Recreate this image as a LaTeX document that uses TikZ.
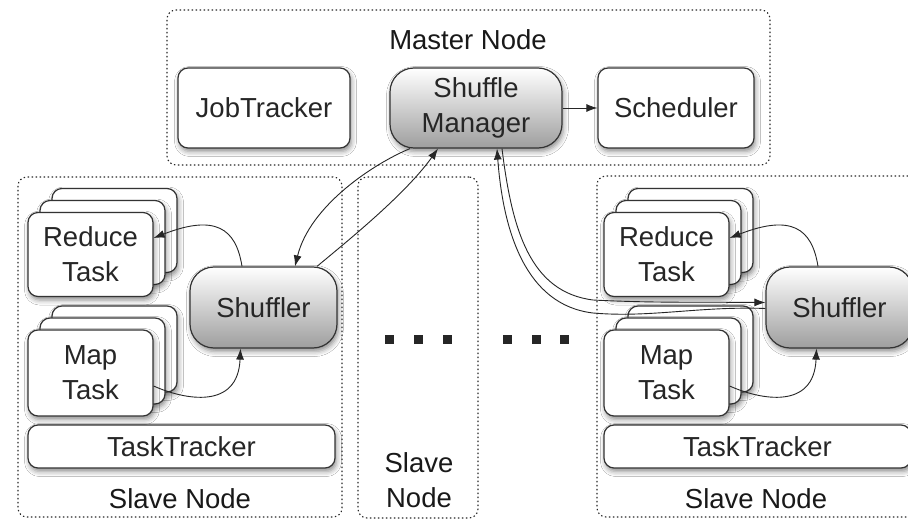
\documentclass[tikz,border=0pt]{standalone}
\usepackage{fontspec}
\setmainfont{Liberation Sans}
\usetikzlibrary{arrows.meta,shadows.blur,calc}

\tikzset{
  every node/.style={font=\fontsize{27.5}{35}\selectfont, text=black!85},
  boxbase/.style={draw=black!80, line width=1.2pt, rounded corners=10pt,
    fill=white, inner sep=0pt, align=center,
    blur shadow={shadow xshift=1.5pt, shadow yshift=-3.5pt,
      shadow blur radius=5pt, shadow opacity=45}},
  plainbox/.style={boxbase},
  shadebox/.style={boxbase, rounded corners=24pt, top color=white, bottom color=black!38},
  container/.style={draw=black!85, line width=1.1pt, dash pattern=on 1.4pt off 2.6pt,
    rounded corners=9pt, inner sep=0pt},
  grouplabel/.style={align=center, text=black!90},
  link/.style={draw=black!85, line width=0.9pt, -{Latex[length=11pt,width=8pt]}},
  dotsq/.style={fill=black!85, minimum size=9pt, inner sep=0pt},
}

% one slave node: tasks, shuffler, task tracker and their links
\newcommand\slavepart[2]{%
  \begin{scope}[xshift=#2]
    \node[plainbox, minimum width=125pt, minimum height=84pt] (#1red3) at (114.5,230.5) {};
    \node[plainbox, minimum width=125pt, minimum height=84pt] (#1red2) at (102.5,242.5) {};
    \node[plainbox, minimum width=125pt, minimum height=84pt] (#1red1) at (90.5,254.5) {Reduce\\Task};
    \node[plainbox, minimum width=125pt, minimum height=86pt] (#1map3) at (114.5,349) {};
    \node[plainbox, minimum width=125pt, minimum height=86pt] (#1map2) at (102.5,361) {};
    \node[plainbox, minimum width=125pt, minimum height=86pt] (#1map1) at (90.5,373) {Map\\Task};
    \node[shadebox, minimum width=147pt, minimum height=81pt] (#1sh) at (263.5,307.5) {Shuffler};
    \node[plainbox, minimum width=307pt, minimum height=43pt] (#1tt) at (181.5,446.5) {TaskTracker};
    \node[grouplabel] (#1lbl) at (180,499) {Slave Node};
    \draw[link] ([xshift=-21.5pt]#1sh.north) .. controls (236,228) and (215,214) .. ([yshift=16.5pt]#1red1.east);
    \draw[link] ([yshift=-13pt]#1map1.east) .. controls (185,400) and (238,410) .. ([xshift=-23pt]#1sh.south);
  \end{scope}}

\begin{document}
\begin{tikzpicture}[x=1pt, y=-1pt]
  \useasboundingbox (0,0) rectangle (908,521);
  \fill[white] (0,0) rectangle (908,521);
  \clip (0,0) rectangle (908,521);

  % containers
  \node[container, minimum width=603pt, minimum height=155pt] (master) at (468.5,87.5) {};
  \node[container, minimum width=324pt, minimum height=340pt] (lslave) at (180,347) {};
  \node[container, minimum width=120pt, minimum height=341pt] (mslave) at (418,347.5) {};
  \node[container, minimum width=324pt, minimum height=341pt] (rslave) at (759,346.5) {};

  % master node
  \node[grouplabel] (masterlbl) at (468,40) {Master Node};
  \node[plainbox, minimum width=172pt, minimum height=80pt] (jt) at (264,108) {JobTracker};
  \node[shadebox, minimum width=172pt, minimum height=80pt] (sm) at (476,108) {Shuffle\\Manager};
  \node[plainbox, minimum width=156pt, minimum height=80pt] (sch) at (676,108) {Scheduler};
  \draw[link] (sm.east) -- (sch.west);

  % slave nodes
  \slavepart{l}{0}
  \slavepart{r}{576}
  \node[grouplabel] (mlbl) at (419,480) {Slave\\Node};

  % elided slave nodes
  \foreach \px in {389,418,447,507,536,564}
    \node[dotsq] at (\px,340) {};

  % shuffle manager <-> shufflers
  \draw[link] ([xshift=-66pt]sm.south) .. controls (375,163) and (310,205) .. ([xshift=31.5pt]lsh.north);
  \draw[link] ([xshift=53.5pt]lsh.north) .. controls (345,243) and (405,195) .. ([xshift=-38pt]sm.south);
  \draw[link] ([yshift=-1pt]rsh.west) .. controls (700,306) and (650,318) .. (593,313)
    .. controls (525,305) and (503,230) .. ([xshift=21pt]sm.south);
  \draw[link] ([xshift=26pt]sm.south) .. controls (512,230) and (530,292) .. (593,300)
    .. controls (650,303) and (700,302) .. ([yshift=5pt]rsh.west);
\end{tikzpicture}
\end{document}
